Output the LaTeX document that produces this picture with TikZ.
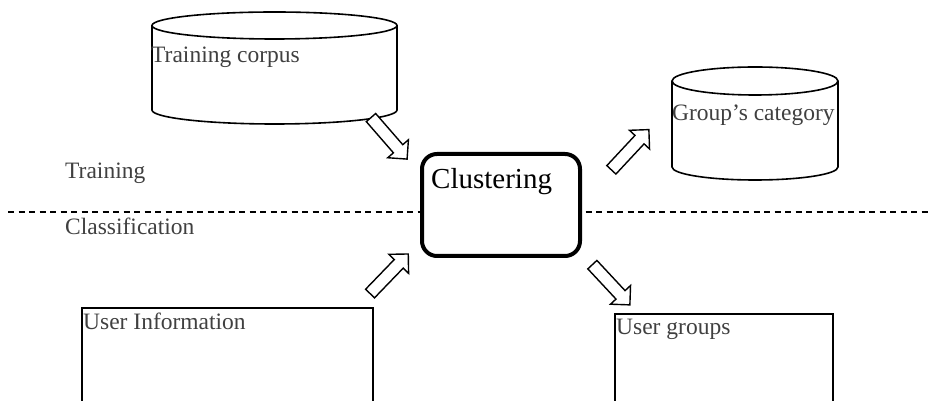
\documentclass[tikz,border=0pt]{standalone}
\usepackage{fontspec}
\setmainfont{Liberation Serif}
\usetikzlibrary{shapes.arrows}

\tikzset{
	plain/.style={line width=1.6pt},
	lbl/.style={anchor=base west, inner sep=0pt, text=black!75, font=\fontsize{23.5}{24}\selectfont},
	blockarrow/.style={single arrow, draw, fill=white, line width=1.4pt,
		minimum height=55pt, minimum width=26pt, inner xsep=0pt, inner ysep=5.5pt,
		single arrow head extend=7.5pt, single arrow tip angle=90},
}

\begin{document}
\begin{tikzpicture}[x=1pt, y=1pt]
		\useasboundingbox (0,0) rectangle (932,401);
		\clip (0,0) rectangle (932,401);
		% dashed separation line
		\coordinate (sepL) at (8,189);
		\coordinate (sepR) at (932,189);
		\draw[line width=1.4pt, dash pattern=on 6pt off 4.5pt] (sepL)--(sepR);
		\node[lbl] (train) at (65,222) {Training};
		\node[lbl] (classif) at (65,166) {Classification};
		% training corpus
		\draw[plain, fill=white] (152,375.5)--(152,291) arc[start angle=180, end angle=360, x radius=122.5, y radius=14]--(397,375.5);
		\draw[plain] (274.5,375.5) ellipse[x radius=122.5, y radius=13.5];
		\node[lbl] (corpus) at (151,338) {Training corpus};
		% group's category
		\draw[plain, fill=white] (672,320)--(672,234) arc[start angle=180, end angle=360, x radius=83, y radius=13]--(838,320);
		\draw[plain] (755,320) ellipse[x radius=83, y radius=14];
		\node[lbl] (category) at (672,280) {Group’s category};
		% clustering
		\node[draw, line width=4pt, rounded corners=15pt, fill=white, minimum width=158pt, minimum height=102pt] (clust) at (501,196) {};
		\node[anchor=base west, inner sep=0pt, font=\fontsize{29}{30}\selectfont] (clusttext) at (431,212) {Clustering};
		% user information
		\draw[plain] (82,-10)--(82,93)--(373,93)--(373,-10);
		\node[lbl] (userinfo) at (83,71) {User Information};
		% user groups
		\draw[plain] (615,-10)--(615,87)--(833,87)--(833,-10);
		\node[lbl] (usergroups) at (616,66) {User groups};
		% arrows
		\node[blockarrow, rotate=-49] (a1) at (387,265) {};
		\node[blockarrow, rotate=47] (a2) at (628,249) {};
		\node[blockarrow, rotate=46] (a3) at (387,125) {};
		\node[blockarrow, rotate=-47] (a4) at (609,118.5) {};
	\end{tikzpicture}
\end{document}
